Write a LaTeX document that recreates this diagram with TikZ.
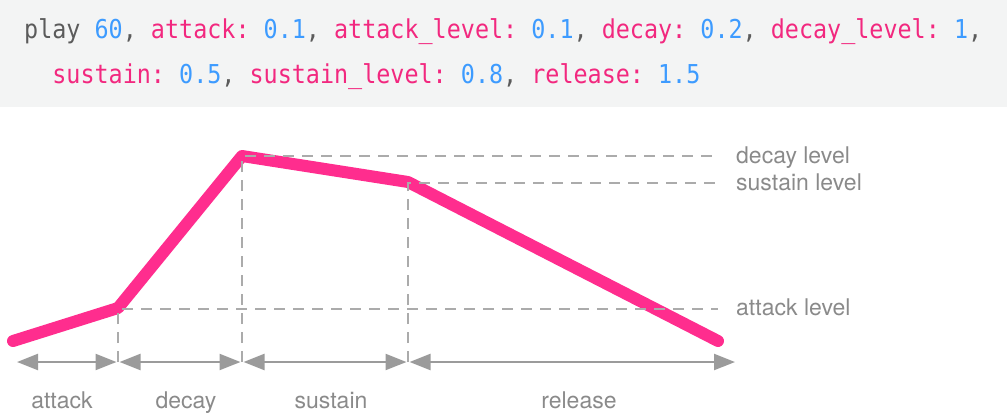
\documentclass[tikz,border=0pt]{standalone}
\usepackage{fontspec}
\setmainfont{TeX Gyre Heros}
\newfontfamily\codefont[FakeStretch=0.9]{DejaVu Sans Mono}
\usetikzlibrary{arrows.meta}
\definecolor{envpink}{HTML}{FF2D8E}
\definecolor{codepink}{HTML}{F2287F}
\definecolor{codeblue}{HTML}{3D9BFF}
\definecolor{codegrey}{HTML}{5B5B5B}
\definecolor{guidegrey}{HTML}{ABABAB}
\definecolor{axisgrey}{HTML}{9B9B9B}
\definecolor{labelgrey}{HTML}{8A8A8A}
\definecolor{bandgrey}{HTML}{F3F4F4}
\newcommand{\kw}[1]{\textcolor{codepink}{#1}}
\newcommand{\nm}[1]{\textcolor{codeblue}{#1}}

\begin{document}
\begin{tikzpicture}[x=1pt,y=-1pt,
    envelope/.style={envpink,line width=12pt,line cap=round,line join=round},
    guide/.style={guidegrey,line width=1.8pt,dash pattern=on 11pt off 8pt},
    span/.style={axisgrey,line width=2.4pt,shorten <=1.5pt,shorten >=1.5pt,
      {Triangle[length=21pt,width=16pt]}-{Triangle[length=21pt,width=16pt]}},
    phase/.style={labelgrey,inner sep=0,anchor=base,font=\fontsize{23}{27}\selectfont},
    level/.style={phase,anchor=base west},
    codeline/.style={anchor=base west,inner sep=0,text=codegrey,
      font=\codefont\fontsize{26}{30}\selectfont\frenchspacing}]
    \useasboundingbox (0,0) rectangle (1007,418);
    \fill[bandgrey] (0,0) rectangle (1007,107);
    % the play line
    \node[codeline] (line1) at (24,38) {play \nm{60}, \kw{attack:} \nm{0.1}, \kw{attack\_level:} \nm{0.1}, \kw{decay:} \nm{0.2}, \kw{decay\_level:} \nm{1},};
    \node[codeline] (line2) at (24,83) {\ \ \kw{sustain:} \nm{0.5}, \kw{sustain\_level:} \nm{0.8}, \kw{release:} \nm{1.5}};
    % envelope corners
    \coordinate (start) at (13,341);
    \coordinate (atk) at (118,308);
    \coordinate (peak) at (242,156);
    \coordinate (sus) at (408,182);
    \coordinate (stop) at (718,341);
    % time axis
    \coordinate (t0) at (15.5,362);
    \coordinate (t1) at (118,362);
    \coordinate (t2) at (242,362);
    \coordinate (t3) at (408,362);
    \coordinate (t4) at (736.5,362);
    \coordinate (dl) at (718,156);
    \coordinate (sl) at (718,183);
    \coordinate (al) at (718,309);
    \draw[envelope] (start) -- (atk) -- (peak) -- (sus) -- (stop);
    \draw[guide] (t1) -- (atk |- al) -- (al);
    \draw[guide] (t2) -- (peak) -- (dl);
    \draw[guide] (t3) -- (sus |- sl) -- (sl);
    \draw[span] (t0) -- (t1);
    \draw[span] (t1) -- (t2);
    \draw[span] (t2) -- (t3);
    \draw[span] (t3) -- (t4);
    \node[level] (decaylevel) at (736,163) {decay level};
    \node[level] (sustainlevel) at (736,190) {sustain level};
    \node[level] (attacklevel) at (736,315) {attack level};
    \node[phase] (attack) at (62,408) {attack};
    \node[phase] (decay) at (186,408) {decay};
    \node[phase] (sustain) at (331,408) {sustain};
    \node[phase] (release) at (579,408) {release};
  \end{tikzpicture}
\end{document}
